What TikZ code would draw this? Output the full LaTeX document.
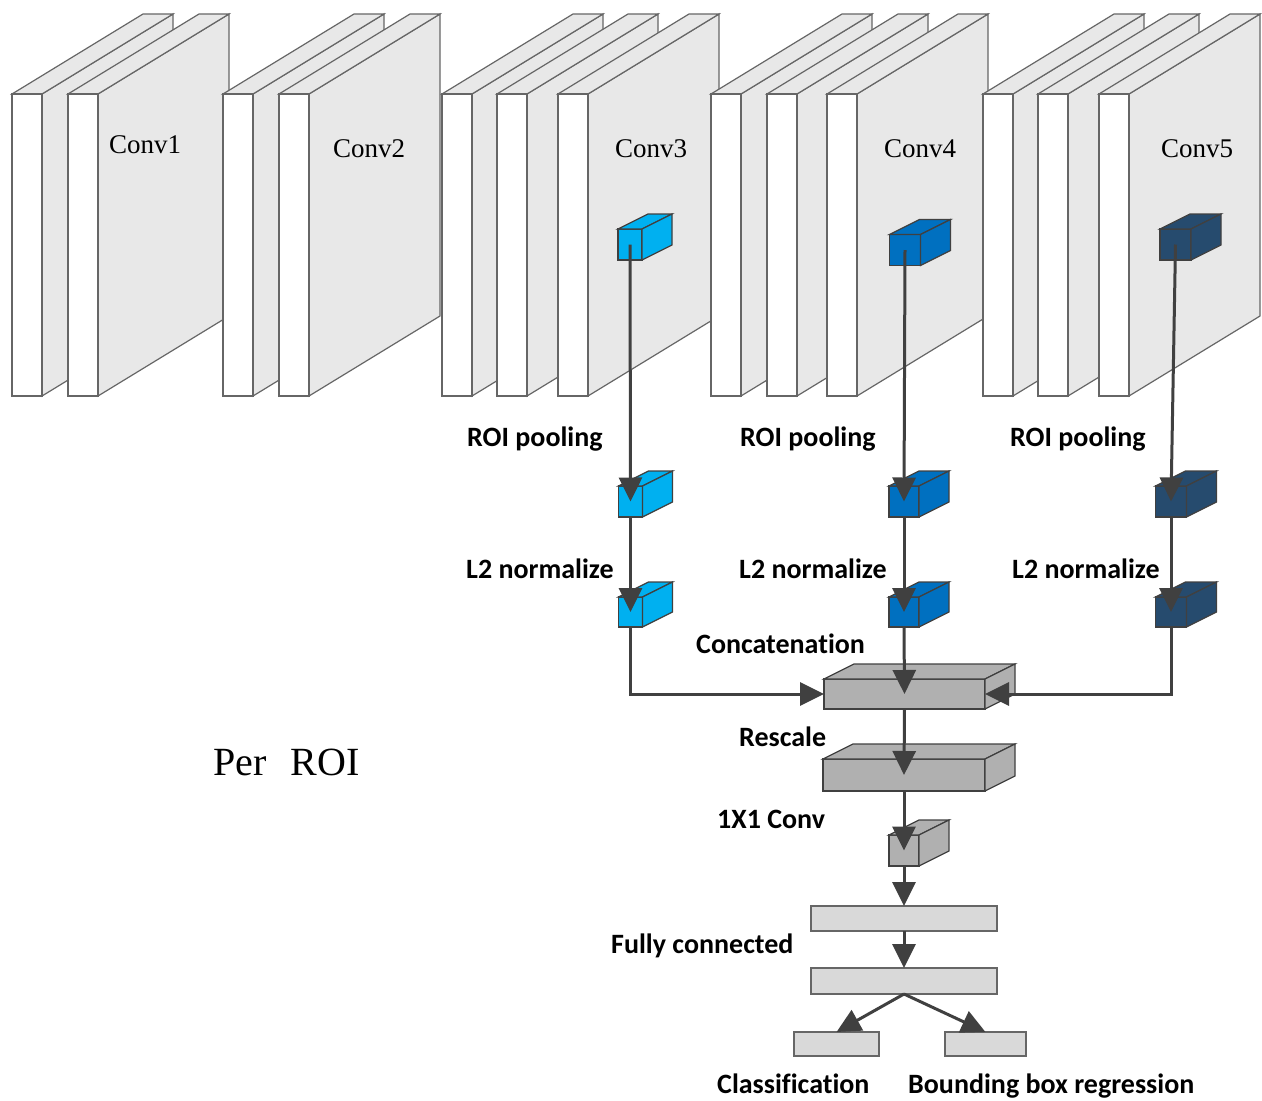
\documentclass[tikz,border=0pt]{standalone}
\usepackage{fontspec}
\setmainfont{Liberation Serif}
\newfontfamily\lblfont{Carlito}[Ligatures=NoCommon]
\usetikzlibrary{arrows.meta}

\definecolor{sheetgray}{HTML}{E8E8E8}
\definecolor{edgegray}{HTML}{666666}
\definecolor{arrowgray}{HTML}{404040}
\definecolor{convthree}{HTML}{00B0F0}
\definecolor{convfour}{HTML}{0070C0}
\definecolor{convfive}{HTML}{264B6E}
\definecolor{poolgray}{HTML}{B0B0B0}
\definecolor{fcgray}{HTML}{D9D9D9}

\newcommand\convsheet[1]{%
  \filldraw[sheet] (#1+30,94) -- ++(131,-80) -- ++(0,302) -- (#1+30,396) -- cycle;
  \filldraw[sheet] (#1,94) -- ++(131,-80) -- ++(30,0) -- (#1+30,94) -- cycle;
  \filldraw[sheet, fill=white] (#1,94) rectangle (#1+30,396);
}
\newcommand\featcube[6]{%
  \node[cubeface, fill=#6, minimum width=#4, minimum height=#5] (#1) at (#2,#3) {};
  \filldraw[cubeedge, fill=#6] (#1.north west) -- ++(30,-15) -- ++(#4,0) -- (#1.north east) -- cycle;
  \filldraw[cubeedge, fill=#6] (#1.north east) -- ++(30,-15) -- ++(0,#5) -- (#1.south east) -- cycle;
}

\begin{document}
\begin{tikzpicture}[x=1pt, y=-1pt,
    sheet/.style={draw=edgegray, line width=1.2pt, fill=sheetgray},
    cubeedge/.style={draw=arrowgray, line width=1.2pt},
    cubeface/.style={cubeedge, rectangle, inner sep=0pt, outer sep=0pt},
    fcbox/.style={draw=edgegray, line width=1.2pt, fill=fcgray, rectangle, inner sep=0pt, outer sep=0pt},
    arr/.style={draw=arrowgray, line width=3pt, -{Triangle[length=24pt, width=23pt]}},
    lbl/.style={font=\lblfont\bfseries\fontsize{28}{32}\selectfont, inner sep=0pt, anchor=base west},
    convlbl/.style={font=\fontsize{27}{30}\selectfont, inner sep=0pt, anchor=base west}]
\useasboundingbox (0,0) rectangle (1262,1101);

\foreach \px in {12,68,223,279,442,497,558,711,767,827,983,1038,1099}
  \convsheet{\px};

\node[convlbl] (conv1) at (109,153) {Conv1};
\node[convlbl] (conv2) at (333,157) {Conv2};
\node[convlbl] (conv3) at (615,157) {Conv3};
\node[convlbl] (conv4) at (884,157) {Conv4};
\node[convlbl] (conv5) at (1161,157) {Conv5};

\featcube{c3top}{630}{244.5}{24}{31}{convthree}
\featcube{c4top}{905}{250}{31}{31}{convfour}
\featcube{c5top}{1175.5}{244.5}{31}{31}{convfive}

\featcube{c3pool}{630.5}{501.5}{24}{31}{convthree}
\featcube{c4pool}{904}{501.5}{30}{31}{convfour}
\featcube{c5pool}{1171}{501.5}{31}{31}{convfive}

\featcube{c3norm}{630.5}{612}{24}{30}{convthree}
\featcube{c4norm}{904}{612}{30}{30}{convfour}
\featcube{c5norm}{1171}{612}{31}{30}{convfive}

\featcube{concat}{904.5}{694}{161}{30}{poolgray}
\featcube{rescale}{904}{775}{162}{32}{poolgray}
\featcube{onebyone}{904}{850.5}{30}{31}{poolgray}

\node[fcbox, minimum width=186, minimum height=25] (fc1) at (904,918.5) {};
\node[fcbox, minimum width=186, minimum height=26] (fc2) at (904,981) {};
\node[fcbox, minimum width=85, minimum height=24] (cls) at (836.5,1044) {};
\node[fcbox, minimum width=81, minimum height=24] (bbox) at (985.5,1044) {};

\draw[arr] (c3top.center) -- (c3pool.center);
\draw[arr] (c4top.center) -- (c4pool.center);
\draw[arr] (c5top.center) -- (c5pool.center);
\draw[arr] (c3pool.south) -- (c3norm.center);
\draw[arr] (c4pool.south) -- (c4norm.center);
\draw[arr] (c5pool.south) -- (c5norm.center);
\draw[arr] (c3norm.south) |- (concat.west);
\draw[arr] (c4norm.south) -- (concat.center);
\draw[arr] (c5norm.south) |- (concat.east);
\draw[arr] (concat.south) -- (rescale.center);
\draw[arr] (rescale.south) -- (onebyone.center);
\draw[arr] (onebyone.south) -- (fc1.north);
\draw[arr] (fc1.south) -- (fc2.north);
\draw[arr] (fc2.south) -- (cls.north);
\draw[arr] (fc2.south) -- (bbox.north);

\node[lbl] (pool3) at (467,446) {ROI pooling};
\node[lbl] (pool4) at (740,446) {ROI pooling};
\node[lbl] (pool5) at (1010,446) {ROI pooling};
\node[lbl] (norm3) at (466,578) {L2 normalize};
\node[lbl] (norm4) at (739,578) {L2 normalize};
\node[lbl] (norm5) at (1012,578) {L2 normalize};
\node[lbl] (concatlbl) at (696,653) {Concatenation};
\node[lbl] (rescalelbl) at (739,746) {Rescale};
\node[lbl] (convlbl) at (717,828) {1X1 Conv};
\node[lbl] (fclbl) at (611,953) {Fully connected};
\node[lbl] (clslbl) at (717,1093) {Classification};
\node[lbl] (bboxlbl) at (908,1093) {Bounding box regression};

\node[convlbl, font=\fontsize{40}{44}\selectfont] (perroi) at (213,775) {Per\hspace{24pt}ROI};
\end{tikzpicture}
\end{document}
